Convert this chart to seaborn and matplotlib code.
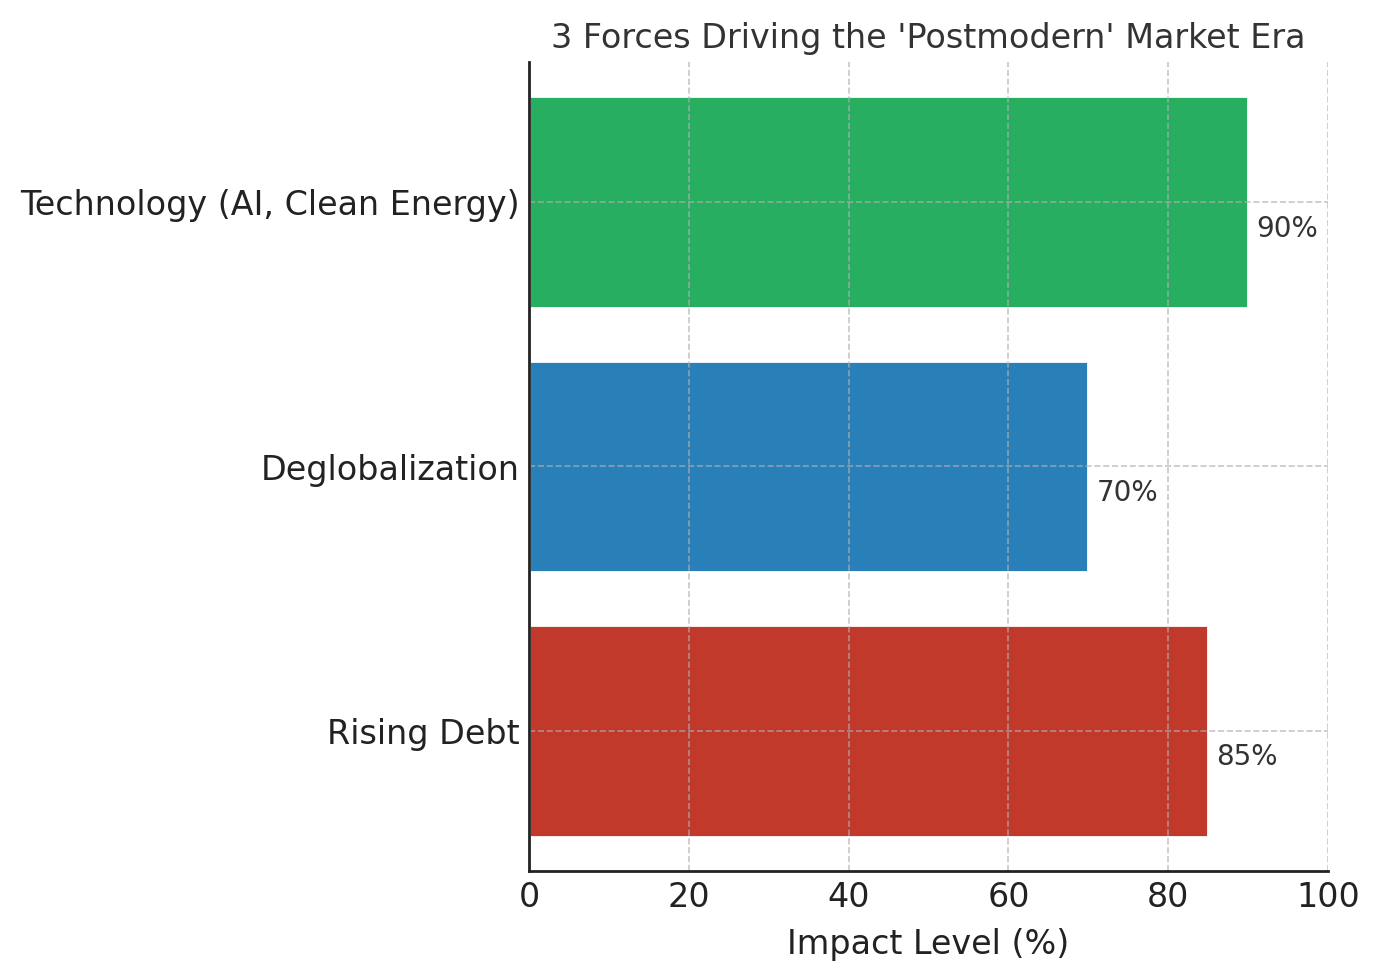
import numpy as np
import pandas as pd
import matplotlib
matplotlib.use('Agg')
import matplotlib.pyplot as plt
import seaborn as sns

# data
forces = ['Technology (AI, Clean Energy)', 'Deglobalization', 'Rising Debt']
impact = [90, 70, 85]
colors = ['#27ae60', '#2980b9', '#c0392b']

df = pd.DataFrame({'Force': forces, 'Impact': impact})

sns.set_style('white')
plt.rcParams['font.family'] = ['DejaVu Sans']

fig = plt.figure(figsize=(1379 / 200, 980 / 200), dpi=200)
ax = fig.add_axes([529 / 1379, 1 - 871 / 980, (1328 - 529) / 1379, (871 - 62) / 980])

sns.barplot(data=df, x='Impact', y='Force', hue='Force', palette=colors,
            saturation=1, width=0.8, legend=False, ax=ax, orient='h')

for i, v in enumerate(impact):
    ax.text(v + 1, i + 0.1, f'{v}%', va='center', ha='left', fontsize=10, color='#333333')

ax.set_xlim(0, 100)
ax.set_ylim(2.53, -0.53)
ax.set_xticks([0, 20, 40, 60, 80, 100])
ax.set_title("3 Forces Driving the 'Postmodern' Market Era", fontsize=12, color='#333333', pad=5)
ax.set_xlabel('Impact Level (%)', fontsize=12, color='#222222', labelpad=5)
ax.set_ylabel('')
ax.tick_params(axis='both', direction='in', length=4, width=0.8, labelsize=12,
               labelcolor='#222222', color='#222222')
ax.set_axisbelow(False)
ax.grid(True, linestyle='--', color='#b0b0b0', alpha=0.7, linewidth=0.6)
for s in ['top', 'right']:
    ax.spines[s].set_visible(False)
for s in ['left', 'bottom']:
    ax.spines[s].set_color('#222222')
    ax.spines[s].set_linewidth(1.0)
    ax.spines[s].set_zorder(5)

fig.savefig('out.png', dpi=200)
